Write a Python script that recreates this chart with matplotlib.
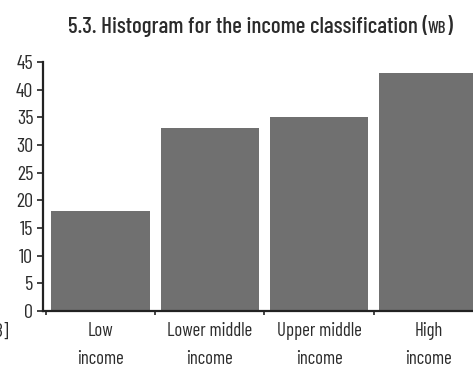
import matplotlib
matplotlib.use("Agg")
import matplotlib.pyplot as plt
import numpy as np

categories = ["Low\nincome", "Lower middle\nincome", "Upper middle\nincome", "High\nincome"]
counts = [18, 33, 35, 43]
yticks = [0, 5, 10, 15, 20, 25, 30, 35, 40, 45]

plt.rcParams["font.family"] = ["Barlow Condensed", "DejaVu Sans"]

bar_color = "#707070"
text_color = "#2b2b2b"
W, H = 473, 368

fig = plt.figure(figsize=(W / 100, H / 100), dpi=100)
ax = fig.add_axes([43 / W, 57 / H, (483 - 43) / W, (311 - 62) / H])

x = np.arange(len(categories))
ax.bar(x, counts, width=0.9, color=bar_color, zorder=2)

ax.set_xlim(-0.526, 3.5)
ax.set_ylim(0, 45)
ax.set_yticks(yticks)
ax.set_yticklabels([str(v) for v in yticks], fontsize=14.5, color=text_color)

ax.set_xticks(x)
ax.set_xticklabels(categories, fontsize=13.5, color=text_color, linespacing=1.7)
ax.tick_params(axis="x", which="major", length=0, pad=8)
ax.set_xticks([-0.5, 0.5, 1.5, 2.5], minor=True)
ax.tick_params(axis="x", which="minor", length=3, width=1.2, color="#222222", direction="out")
ax.tick_params(axis="y", length=4, width=1.2, color="#222222", pad=3)

for side in ["top", "right"]:
    ax.spines[side].set_visible(False)
for side in ["left", "bottom"]:
    ax.spines[side].set_linewidth(1.6)
    ax.spines[side].set_color("#222222")

# title, with "WB" set in small capitals
renderer = fig.canvas.get_renderer()
parts = [("5.3. Histogram for the income classification (", 16.5),
         ("WB", 12),
         (")", 16.5)]
texts = [fig.text(0, 1 - 33 / H, s, ha="left", va="baseline", fontsize=fs,
                  color=text_color, fontweight="medium") for s, fs in parts]
widths = [t.get_window_extent(renderer).width for t in texts]
left = 260 - sum(widths) / 2
for t, w in zip(texts, widths):
    t.set_x(left / W)
    left += w

# axis note that runs off the left edge
fig.text(9 / W, 1 - 337 / H, "[WB]", ha="right", va="baseline", fontsize=14, color=text_color)

fig.savefig("out.png", dpi=100)
